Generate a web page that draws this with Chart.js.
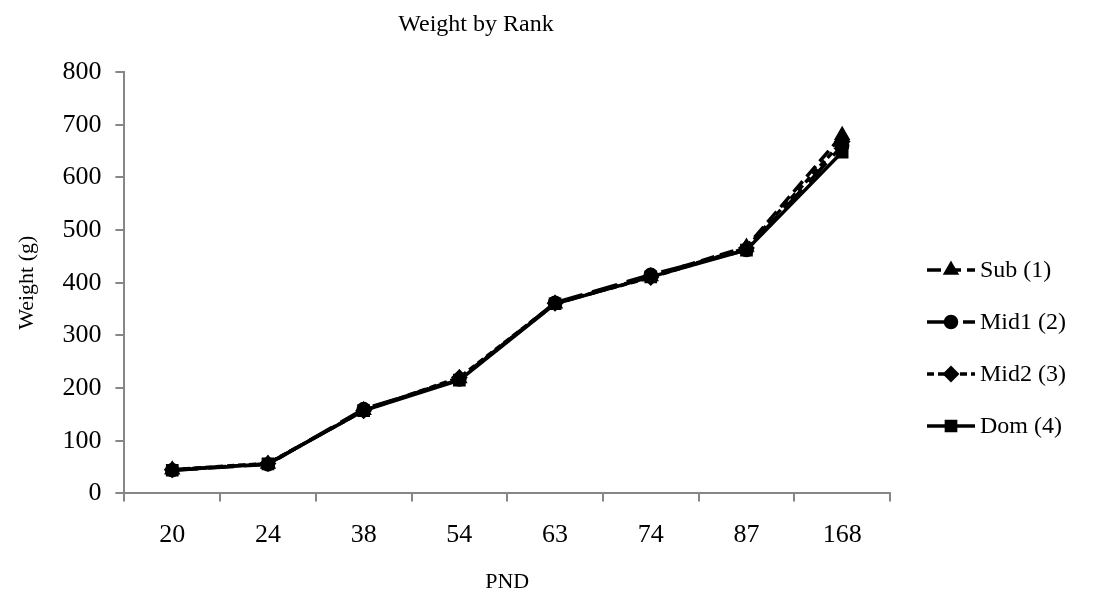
<!DOCTYPE html>
<html>
<head>
<meta charset="utf-8">
<script src="https://cdn.jsdelivr.net/npm/chart.js@4"></script>
<style>
  html, body { margin: 0; padding: 0; background: #fff; }
  #wrap { width: 1104px; height: 606px; }
</style>
</head>
<body>
<div id="wrap"><canvas id="myChart"></canvas></div>
<script>
const pnd = ['20', '24', '38', '54', '63', '74', '87', '168'];
const sub1 = [45, 56, 158, 218, 360, 412, 468, 680];
const mid1 = [44, 55, 160, 216, 362, 415, 462, 660];
const mid2 = [45, 57, 157, 220, 361, 410, 466, 668];
const dom4 = [44, 56, 157, 215, 360, 411, 462, 648];
const yTicks = [0, 100, 200, 300, 400, 500, 600, 700, 800];

const serif = "'Liberation Serif', 'Times New Roman', serif";
const axisGrey = '#868686';

// title and legend drawn by hand so they sit where the original has them
const extras = {
  id: 'extras',
  afterDraw(chart) {
    const c = chart.ctx;
    c.save();
    c.fillStyle = '#000';
    c.font = '24px ' + serif;
    c.textAlign = 'center';
    c.textBaseline = 'middle';
    c.fillText('Weight by Rank', 476, 25);
    c.restore();

    const x0 = 927, x1 = 975, tx = 980;
    const ys = [270, 322, 374, 426];
    chart.data.datasets.forEach((ds, i) => {
      const y = ys[i];
      c.save();
      c.strokeStyle = '#000';
      c.lineWidth = ds.borderWidth;
      c.setLineDash(ds.borderDash || []);
      c.beginPath();
      c.moveTo(x0, y);
      c.lineTo(x1, y);
      c.stroke();
      c.setLineDash([]);
      Chart.helpers.drawPoint(c, {
        pointStyle: ds.pointStyle,
        radius: ds.pointRadius,
        borderWidth: 1,
        rotation: 0
      }, (x0 + x1) / 2, y);
      c.fillStyle = '#000';
      c.font = '24px ' + serif;
      c.textBaseline = 'middle';
      c.fillText(ds.label, tx, y + 1);
      c.restore();
    });
  }
};

function series(label, data, dash, style, radius, order) {
  return {
    label: label,
    data: data,
    borderColor: '#000',
    backgroundColor: '#000',
    pointBackgroundColor: '#000',
    pointBorderColor: '#000',
    borderWidth: 3.5,
    borderDash: dash,
    pointStyle: style,
    pointRadius: radius,
    pointHoverRadius: radius,
    tension: 0,
    order: order
  };
}

const ctx = document.getElementById('myChart');

new Chart(ctx, {
  type: 'line',
  data: {
    labels: pnd,
    datasets: [
      series('Sub (1)', sub1, [14, 6], 'triangle', 6, 3),
      series('Mid1 (2)', mid1, [26, 10], 'circle', 5.5, 2),
      series('Mid2 (3)', mid2, [7, 4], 'rectRot', 6, 1),
      series('Dom (4)', dom4, [], 'rect', 6.5, 0)
    ]
  },
  options: {
    responsive: true,
    maintainAspectRatio: false,
    animation: false,
    layout: {
      padding: { left: 10, right: 214, top: 72, bottom: 7 }
    },
    scales: {
      x: {
        offset: true,
        grid: {
          offset: true,
          drawOnChartArea: false,
          color: axisGrey,
          lineWidth: 2,
          tickLength: 8
        },
        border: { color: axisGrey, width: 2 },
        ticks: {
          color: '#000',
          font: { family: serif, size: 26 },
          padding: 18
        },
        title: {
          display: true,
          text: 'PND',
          color: '#000',
          font: { family: serif, size: 22 },
          padding: { top: 0 }
        }
      },
      y: {
        min: 0,
        max: 800,
        afterBuildTicks(axis) {
          axis.ticks = yTicks.map(v => ({ value: v }));
        },
        grid: {
          drawOnChartArea: false,
          color: axisGrey,
          lineWidth: 2,
          tickLength: 9
        },
        border: { color: axisGrey, width: 2 },
        ticks: {
          color: '#000',
          font: { family: serif, size: 26 },
          padding: 14
        },
        title: {
          display: true,
          text: 'Weight (g)',
          color: '#000',
          font: { family: serif, size: 22 },
          padding: { bottom: 8 }
        }
      }
    },
    plugins: {
      legend: { display: false },
      tooltip: { enabled: false },
      title: { display: false }
    }
  },
  plugins: [extras]
});
</script>
</body>
</html>
